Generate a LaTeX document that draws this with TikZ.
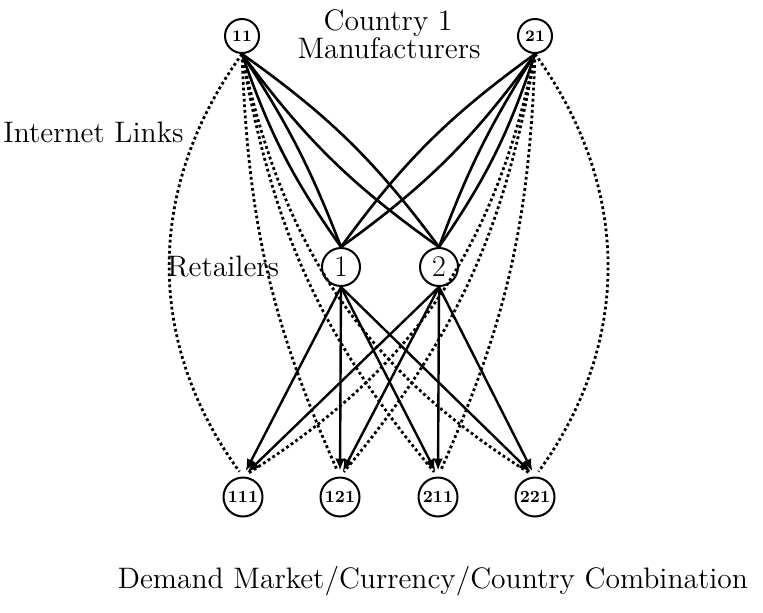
\documentclass[tikz,border=0pt]{standalone}
\usetikzlibrary{arrows.meta}
\begin{document}
\begin{tikzpicture}[x=0.5pt,y=-0.5pt,
  mfr/.style={circle,draw,line width=1pt,minimum size=17pt,inner sep=0pt,font=\fontsize{8}{9}\selectfont\bfseries},
  ret/.style={circle,draw,line width=1pt,minimum size=19pt,inner sep=0pt,font=\fontsize{15}{16}\selectfont},
  dem/.style={circle,draw,line width=1pt,minimum size=19.5pt,inner sep=0pt,font=\fontsize{8.5}{9}\selectfont\bfseries},
  lbl/.style={inner sep=0pt,font=\fontsize{14.8}{16}\selectfont},
  solidlink/.style={line width=1.3pt},
  netlink/.style={line width=1.4pt,dash pattern=on 1.4pt off 1.4pt,shorten >=3pt},
  shiplink/.style={line width=1.2pt,shorten >=3pt,-{Latex[length=6pt,width=5pt]}}]
\useasboundingbox (0,0) rectangle (763,612);
% nodes
\node[mfr] (n11) at (242,36) {11};
\node[mfr] (n21) at (535,36) {21};
\node[ret] (r1) at (341,267) {1};
\node[ret] (r2) at (439,267) {2};
\node[dem] (d111) at (243,497) {111};
\node[dem] (d121) at (340,497) {121};
\node[dem] (d211) at (438,497) {211};
\node[dem] (d221) at (535,497) {221};
% labels
\node[lbl,anchor=base] (t1) at (388,30) {Country 1};
\node[lbl,anchor=base] (t2) at (389,58) {Manufacturers};
\node[lbl,anchor=base west] (t3) at (3,142) {Internet Links};
\node[lbl,anchor=base west] (t4) at (167,276) {Retailers};
\node[lbl,anchor=base] (t5) at (433,588) {Demand Market/Currency/Country Combination};
% manufacturer -> retailer
\draw[solidlink] (n11.south) to[bend left=6] (r1.north);
\draw[solidlink] (n11.south) to[bend right=8] (r1.north);
\draw[solidlink] (n11.south) to[bend left=9] (r2.north);
\draw[solidlink] (n11.south) to[bend right=9] (r2.north);
\draw[solidlink] (n21.south) to[bend left=8] (r2.north);
\draw[solidlink] (n21.south) to[bend right=6] (r2.north);
\draw[solidlink] (n21.south) to[bend left=9] (r1.north);
\draw[solidlink] (n21.south) to[bend right=9] (r1.north);
% internet links
\draw[netlink] (n11.south) to[bend right=36] (d111.north);
\draw[netlink] (n11.south) to[bend right=11] (d121.north);
\draw[netlink] (n11.south) to[bend right=15] (d211.north);
\draw[netlink] (n11.south) to[bend right=23] (d221.north);
\draw[netlink] (n21.south) to[bend left=36] (d221.north);
\draw[netlink] (n21.south) to[bend left=11] (d211.north);
\draw[netlink] (n21.south) to[bend left=15] (d121.north);
\draw[netlink] (n21.south) to[bend left=23] (d111.north);
% retailer -> demand
\foreach \r in {r1,r2}{
  \foreach \d in {d111,d121,d211,d221}{
    \draw[shiplink] (\r.south) -- (\d.north);
  }
}
\end{tikzpicture}
\end{document}
